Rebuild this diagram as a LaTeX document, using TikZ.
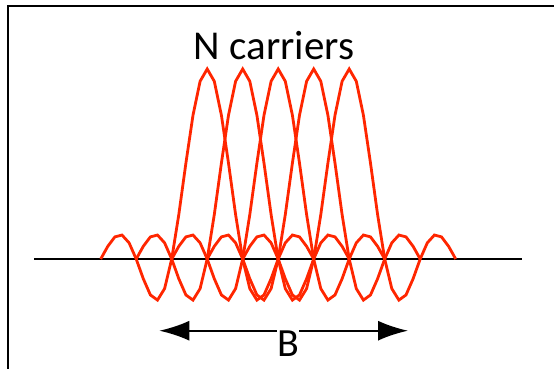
\documentclass[tikz,border=0pt]{standalone}
\usepackage{fontspec}
\setmainfont{Carlito}
\usetikzlibrary{arrows.meta}
\definecolor{carrierred}{RGB}{255,38,0}
\tikzset{
  carrier/.style={draw=carrierred, line width=2.8pt},
  axisline/.style={draw=black, line width=2.4pt},
  frameline/.style={draw=black, line width=2.4pt},
  bandarrow/.style={draw=black, line width=2pt, {Latex[length=30pt,width=20pt]}-{Latex[length=30pt,width=20pt]}},
  bigtext/.style={font=\fontsize{41}{49}\selectfont, inner sep=0pt},
  blabel/.style={font=\fontsize{40}{48}\selectfont, fill=white, inner xsep=0.4pt, inner ysep=3.5pt}
}
\def\sinclist{-2.8/0.06682,-2.6/0.116435,-2.4/0.126138,-2.2/0.085044,-2/0,-1.8/-0.103943,-1.6/-0.189207,-1.4/-0.216236,-1.2/-0.155915,-1/0,-0.8/0.233872,-0.6/0.504551,-0.4/0.756827,-0.2/0.935489,0/1,0.2/0.935489,0.4/0.756827,0.6/0.504551,0.8/0.233872,1/0,1.2/-0.155915,1.4/-0.216236,1.6/-0.189207,1.8/-0.103943,2/0,2.2/0.085044,2.4/0.126138,2.6/0.116435,2.8/0.06682,3/0}
\begin{document}
\begin{tikzpicture}[x=1pt,y=-1pt]
  \useasboundingbox (0,0) rectangle (554,368);
  \clip (0,0) rectangle (554,368);
  \fill[white] (0,0) rectangle (554,368);
  % frame (extends beyond the picture)
  \draw[frameline] (8,380) -- (8,6) -- (570,6);
  % axis
  \coordinate (axL) at (34,259);
  \coordinate (axR) at (522,259);
  \draw[axisline] (axL) -- (axR);
  % carriers
  \foreach \c in {207.2,242.7,278.2,313.7,349.2} {
    \draw[carrier] ({\c-106.5},259) \foreach \t/\v in \sinclist { -- ({\c+35.5*\t},{259-190*\v}) };
  }
  % title
  \node[bigtext, anchor=base] (title) at (274,59.3) {N carriers};
  % bandwidth arrow
  \coordinate (bl) at (159.3,330.7);
  \coordinate (br) at (408,330.7);
  \draw[bandarrow] (bl) -- (br);
  \node[blabel, anchor=base] (B) at (288,356.7) {B};
\end{tikzpicture}
\end{document}
